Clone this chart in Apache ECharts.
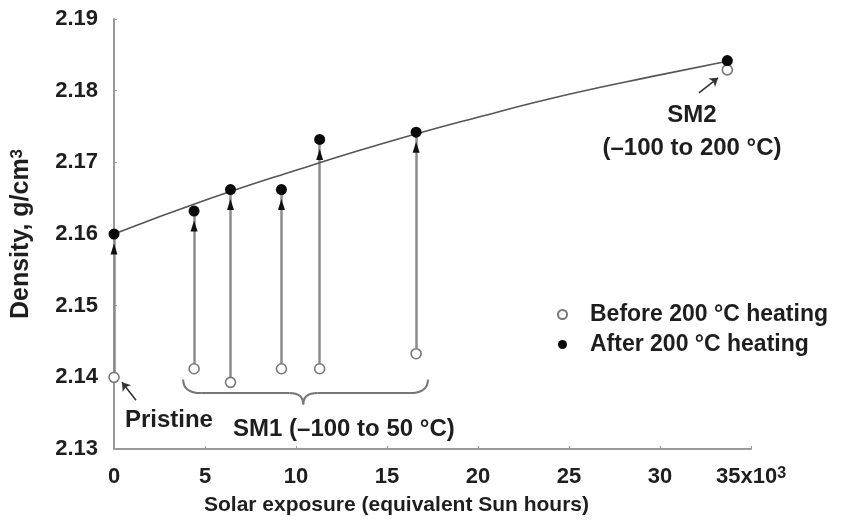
<!DOCTYPE html>
<html>
<head>
<meta charset="utf-8">
<script src="https://cdn.jsdelivr.net/npm/echarts@6/dist/echarts.min.js"></script>
<style>html,body{margin:0;padding:0;background:#fff;}#c{width:842px;height:521px;}</style>
</head>
<body>
<div id="c"></div>
<script>
// Solar exposure (x10^3 equivalent Sun hours)
const exposure = [0, 4.4, 6.4, 9.2, 11.3, 16.6, 33.7];
// Density before 200 °C heating (open circles)
const before = [2.140, 2.1412, 2.1393, 2.1412, 2.1412, 2.1433, 2.1829];
// Density after 200 °C heating (filled circles)
const after = [2.160, 2.1632, 2.1662, 2.1662, 2.1732, 2.1742, 2.1842];
// number of samples that get an up-arrow (SM2 has none)
const arrowCount = 6;
// fitted trend curve
const fitX = [0, 5, 10, 15, 20, 25, 30, 33.7];
const fitY = [2.1600, 2.1647, 2.1689, 2.1728, 2.1763, 2.1795, 2.1822, 2.1841];
// axis ticks
const xTicks = [0, 5, 10, 15, 20, 25, 30, 35];
const yTicks = [2.13, 2.14, 2.15, 2.16, 2.17, 2.18, 2.19];
// annotation anchors (data space)
const pristineArrow = [[1.21, 2.1368], [0.44, 2.1393]];
const sm2Arrow = [[32.14, 2.1797], [33.19, 2.1818]];
const braceX = [3.8, 10.4, 17.25];
const braceY = [2.1397, 2.1378, 2.1362];
const labels = [
  {text: 'Pristine', x: 0.6, y: 2.1340, align: 'left'},
  {text: 'SM1 (\u2013100 to 50 \u00b0C)', x: 6.54, y: 2.1328, align: 'left'},
  {text: 'SM2\n(\u2013100 to 200 \u00b0C)', x: 31.76, y: 2.1743, align: 'center'}
];

const FONT = 'Liberation Sans';
const W = 'bold';
const TXT = '#1e1e1e';
const chart = echarts.init(document.getElementById('c'));

const stems = [];
const heads = [];
for (let i = 0; i < arrowCount; i++) {
  stems.push({coords: [[exposure[i], before[i]], [exposure[i], after[i]]]});
  heads.push([exposure[i], after[i]]);
}

const supStyle = {fontFamily: FONT, fontWeight: W, fontSize: 16, lineHeight: 16, color: TXT, verticalAlign: 'top'};
const supStyleY = {fontFamily: FONT, fontWeight: W, fontSize: 17, lineHeight: 17, color: TXT, verticalAlign: 'top'};

const option = {
  animation: false,
  backgroundColor: '#fff',
  grid: {left: 114, right: 91, top: 19, bottom: 70, containLabel: false},
  xAxis: {
    type: 'value', min: 0, max: 35, interval: 5,
    name: 'Solar exposure (equivalent Sun hours)',
    nameLocation: 'middle', nameGap: 46,
    nameTextStyle: {fontFamily: FONT, fontWeight: W, fontSize: 21, color: TXT, padding: [0, 72, 0, 0]},
    axisLine: {lineStyle: {color: '#999', width: 2}},
    axisTick: {inside: true, length: 3, lineStyle: {color: '#999'}},
    splitLine: {show: false},
    axisLabel: {
      fontFamily: FONT, fontWeight: W, fontSize: 22, lineHeight: 22, color: TXT, margin: 17,
      formatter: function (v) { return v === xTicks[xTicks.length - 1] ? v + 'x10{sup|3}' : String(v); },
      rich: {sup: supStyle}
    }
  },
  yAxis: {
    type: 'value', min: yTicks[0], max: yTicks[yTicks.length - 1], interval: 0.01,
    name: 'Density, g/cm{sup|3}',
    nameLocation: 'middle', nameGap: 80, nameRotate: 90,
    nameTextStyle: {fontFamily: FONT, fontWeight: W, fontSize: 25, lineHeight: 25, color: TXT, rich: {sup: supStyleY}},
    axisLine: {show: true, lineStyle: {color: '#999', width: 2}},
    axisTick: {show: true, inside: true, length: 3, lineStyle: {color: '#999'}},
    splitLine: {show: false},
    axisLabel: {fontFamily: FONT, fontWeight: W, fontSize: 22, color: TXT, margin: 16,
      formatter: function (v) { return v.toFixed(2); }}
  },
  legend: {
    show: true, orient: 'vertical', left: 552, top: 298,
    itemWidth: 9, itemHeight: 9, itemGap: 7,
    data: ['Before 200 \u00b0C heating', 'After 200 \u00b0C heating'],
    textStyle: {fontFamily: FONT, fontWeight: W, fontSize: 23, color: TXT, padding: [0, 0, 0, 18]}
  },
  series: [
    {
      type: 'lines', coordinateSystem: 'cartesian2d', z: 1, silent: true,
      lineStyle: {color: '#8c8c8c', width: 2.5, opacity: 1},
      symbol: ['none', 'none'],
      data: stems
    },
    {
      type: 'lines', coordinateSystem: 'cartesian2d', z: 5, silent: true,
      lineStyle: {color: '#333', width: 1.6, opacity: 1},
      symbol: ['none', 'arrow'], symbolSize: 8,
      data: [{coords: pristineArrow}, {coords: sm2Arrow}]
    },
    {
      type: 'line', z: 2, smooth: true, showSymbol: false, silent: true,
      lineStyle: {color: '#555', width: 1.6},
      data: fitX.map((x, i) => [x, fitY[i]])
    },
    {
      type: 'scatter', z: 4, silent: true,
      symbol: 'triangle', symbolSize: [7, 11], symbolOffset: [0, 15],
      itemStyle: {color: '#111', opacity: 1},
      data: heads
    },
    {
      name: 'Before 200 \u00b0C heating',
      type: 'scatter', z: 3, symbol: 'circle', symbolSize: 10,
      itemStyle: {color: '#fff', borderColor: '#777', borderWidth: 1.6, opacity: 1},
      data: exposure.map((x, i) => [x, before[i]])
    },
    {
      name: 'After 200 \u00b0C heating',
      type: 'scatter', z: 4, symbol: 'circle', symbolSize: 11,
      itemStyle: {color: '#0a0a0a', opacity: 1},
      data: exposure.map((x, i) => [x, after[i]])
    }
  ]
};
chart.setOption(option);

function px(x, y) { return chart.convertToPixel({gridIndex: 0}, [x, y]); }
const L = px(braceX[0], braceY[0]);
const T = px(braceX[1], braceY[2]);
const R = px(braceX[2], braceY[0]);
const yh = px(braceX[1], braceY[1])[1];
const braceStyle = {fill: 'none', stroke: '#777', lineWidth: 2};
const graphics = [
  {type: 'bezierCurve', silent: true, style: braceStyle,
    shape: {x1: L[0], y1: L[1], cpx1: L[0], cpy1: yh, x2: L[0] + 18, y2: yh}},
  {type: 'line', silent: true, style: braceStyle,
    shape: {x1: L[0] + 18, y1: yh, x2: T[0] - 14, y2: yh}},
  {type: 'bezierCurve', silent: true, style: braceStyle,
    shape: {x1: T[0] - 14, y1: yh, cpx1: T[0], cpy1: yh, x2: T[0], y2: T[1]}},
  {type: 'bezierCurve', silent: true, style: braceStyle,
    shape: {x1: T[0], y1: T[1], cpx1: T[0], cpy1: yh, x2: T[0] + 14, y2: yh}},
  {type: 'line', silent: true, style: braceStyle,
    shape: {x1: T[0] + 14, y1: yh, x2: R[0] - 18, y2: yh}},
  {type: 'bezierCurve', silent: true, style: braceStyle,
    shape: {x1: R[0] - 18, y1: yh, cpx1: R[0], cpy1: yh, x2: R[0], y2: R[1]}}
];
labels.forEach(function (lb) {
  const p = px(lb.x, lb.y);
  graphics.push({
    type: 'text', x: p[0], y: p[1], silent: true,
    style: {text: lb.text, fontFamily: FONT, fontWeight: W, fontSize: 24, fill: TXT,
      align: lb.align, verticalAlign: 'middle', lineHeight: 33}
  });
});
chart.setOption({graphic: graphics});
</script>
</body>
</html>
